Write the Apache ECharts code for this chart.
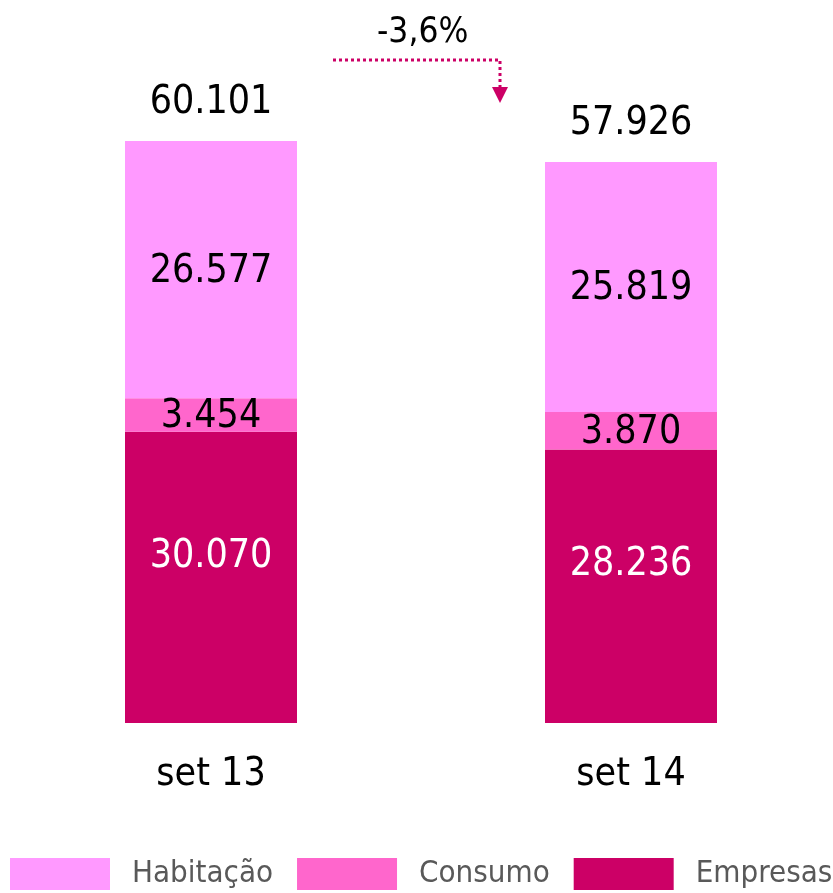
<!DOCTYPE html>
<html>
<head>
<meta charset="utf-8">
<script src="https://cdn.jsdelivr.net/npm/echarts@6/dist/echarts.min.js"></script>
<style>
  html, body { margin: 0; padding: 0; background: #fff; }
  #chart { width: 833px; height: 893px; }
</style>
</head>
<body>
<div id="chart"></div>
<script>
var categories = ['set 13', 'set 14'];
var habitacao = [26577, 25819];
var consumo = [3454, 3870];
var empresas = [30070, 28236];
var totais = [60101, 57926];
var variacao = '-3,6%';

var FONT = '"DejaVu Sans Condensed", "DejaVu Sans", sans-serif';

// formato 60.101
function fmt(v) {
    return String(v).replace(/\B(?=(\d{3})+(?!\d))/g, '.');
}

var myChart = echarts.init(document.getElementById('chart'));

var option = {
    animation: false,
    textStyle: { fontFamily: FONT },
    grid: { left: 211, right: 202, top: 141, bottom: 170 },
    legend: {
        data: ['Habitação', 'Consumo', 'Empresas'],
        left: 10,
        bottom: 3,
        width: 1000,
        padding: 0,
        icon: 'rect',
        itemWidth: 100,
        itemHeight: 32,
        itemGap: 24,
        textStyle: { fontFamily: FONT, fontSize: 31, color: '#595959', padding: [0, 0, 0, 17] }
    },
    xAxis: {
        type: 'category',
        data: categories,
        boundaryGap: false,
        axisLine: { show: false },
        axisTick: { show: false },
        axisLabel: { fontFamily: FONT, fontSize: 39, color: '#000', margin: 32 }
    },
    yAxis: {
        type: 'value',
        min: 0,
        max: 60101,
        show: false,
        splitLine: { show: false }
    },
    series: [
        {
            name: 'Empresas',
            type: 'bar',
            stack: 'total',
            barWidth: 172,
            data: empresas,
            itemStyle: { color: '#CC0066' },
            label: {
                show: true, position: 'inside', offset: [0, -21],
                fontFamily: FONT, fontSize: 39, color: '#fff',
                formatter: function (p) { return fmt(p.value); }
            }
        },
        {
            name: 'Consumo',
            type: 'bar',
            stack: 'total',
            barWidth: 172,
            data: consumo,
            itemStyle: { color: '#FF66CC' },
            label: {
                show: true, position: 'inside', offset: [0, 2],
                fontFamily: FONT, fontSize: 39, color: '#000',
                formatter: function (p) { return fmt(p.value); }
            }
        },
        {
            name: 'Habitação',
            type: 'bar',
            stack: 'total',
            barWidth: 172,
            data: habitacao,
            itemStyle: { color: '#FF99FF' },
            label: {
                show: true, position: 'inside', offset: [0, 2],
                fontFamily: FONT, fontSize: 39, color: '#000',
                formatter: function (p) { return fmt(p.value); }
            }
        },
        {
            // totais acima das barras
            name: 'Total',
            type: 'scatter',
            symbolSize: 0,
            data: totais,
            itemStyle: { opacity: 1 },
            label: {
                show: true, position: 'top', distance: 19,
                fontFamily: FONT, fontSize: 39, color: '#000', opacity: 1,
                formatter: function (p) { return fmt(p.value); }
            }
        }
    ],
    graphic: [
        {
            type: 'text',
            left: 377,
            top: 15,
            style: { text: variacao, font: '35px ' + FONT, fill: '#000' }
        },
        {
            type: 'polyline',
            shape: { points: [[333, 60], [500, 60], [500, 88]] },
            style: { stroke: '#CC0066', lineWidth: 3, lineDash: [3, 3], fill: null }
        },
        {
            type: 'polygon',
            shape: { points: [[492, 87], [508, 87], [500, 103]] },
            style: { fill: '#CC0066' }
        }
    ]
};

myChart.setOption(option);
</script>
</body>
</html>
